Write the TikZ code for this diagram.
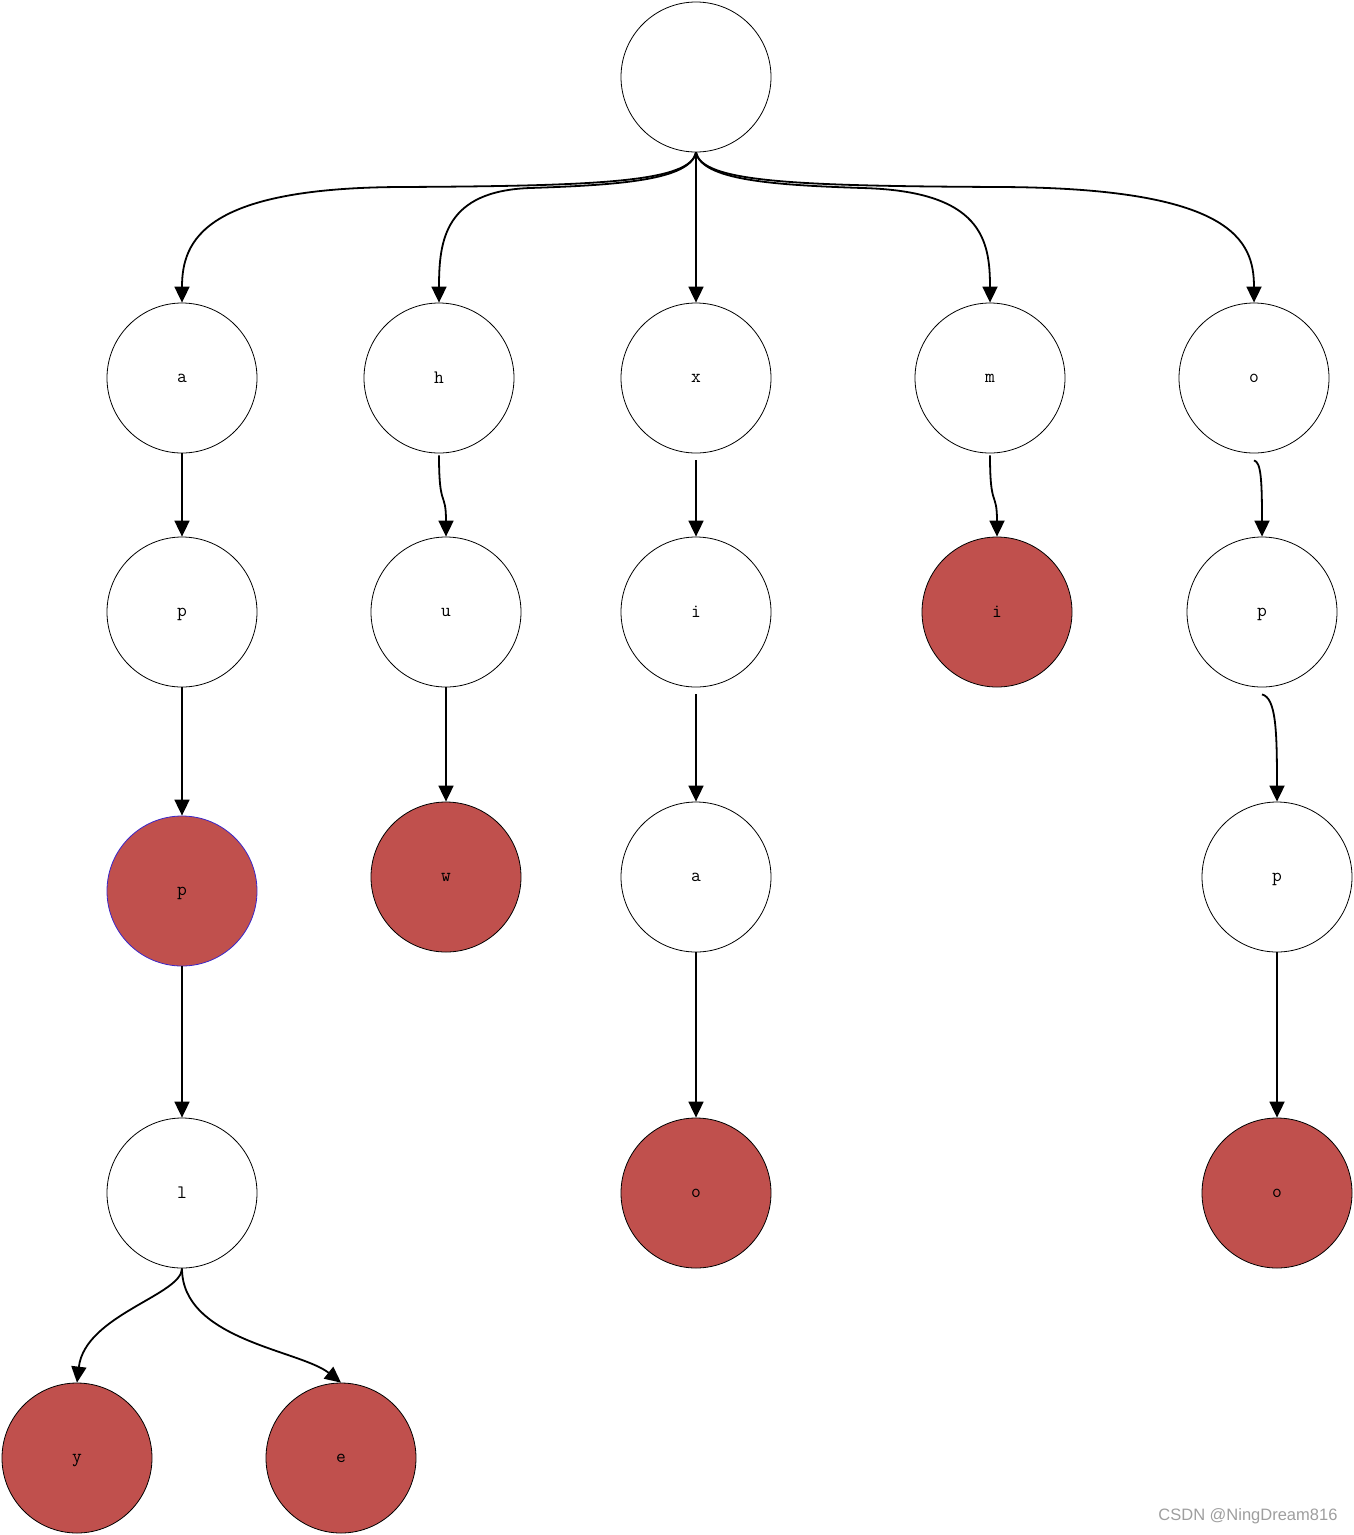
\documentclass[tikz,border=0pt]{standalone}
\usepackage{fontspec}
\newfontfamily\wmfont{Liberation Sans}
\usetikzlibrary{arrows.meta}
\definecolor{leaf}{HTML}{C0504D}
\tikzset{
  tnode/.style={circle, draw=black, line width=0.8pt, minimum size=150pt, inner sep=0pt, text depth=-2pt, font=\ttfamily\fontsize{19}{19}\selectfont},
  endnode/.style={tnode, fill=leaf},
  edge/.style={line width=1.8pt, -{Triangle[length=16pt,width=15pt]}}
}
\begin{document}
\begin{tikzpicture}[x=1pt,y=-1pt]
\useasboundingbox (0,0) rectangle (1354,1535);
% nodes
\node[tnode] (root) at (696,77) {};
\node[tnode] (a) at (182,378) {a};
\node[tnode] (h) at (439,378) {h};
\node[tnode] (x) at (696,378) {x};
\node[tnode] (m) at (990,378) {m};
\node[tnode] (o) at (1254,378) {o};
\node[tnode] (ap) at (182,612) {p};
\node[tnode] (hu) at (446,612) {u};
\node[tnode] (xi) at (696,612) {i};
\node[endnode] (mi) at (997,612) {i};
\node[tnode] (op) at (1262,612) {p};
\node[endnode, draw={rgb,255:red,60;green,40;blue,200}] (app) at (182,891) {p};
\node[endnode] (huw) at (446,877) {w};
\node[tnode] (xia) at (696,877) {a};
\node[tnode] (opp) at (1277,877) {p};
\node[tnode] (appl) at (182,1193) {l};
\node[endnode] (xiao) at (696,1193) {o};
\node[endnode] (oppo) at (1277,1193) {o};
\node[endnode] (y) at (77,1458) {y};
\node[endnode] (e) at (341,1458) {e};
% edges from root
\draw[edge] (root.south) .. controls (690,182) and (600,186) .. (400,187) .. controls (205,188) and (182,240) .. (a.north);
\draw[edge] (root.south) .. controls (690,180) and (620,185) .. (530,188) .. controls (445,191) and (439,240) .. (h.north);
\draw[edge] (root.south) -- (x.north);
\draw[edge] (root.south) .. controls (702,180) and (772,185) .. (862,188) .. controls (982,191) and (990,240) .. (m.north);
\draw[edge] (root.south) .. controls (702,182) and (792,186) .. (1000,187) .. controls (1232,188) and (1254,240) .. (o.north);
% chains
\draw[edge] (a.south) -- (ap.north);
\draw[edge] ([yshift=-2pt]h.south) .. controls (439,510) and (446,490) .. (hu.north);
\draw[edge] ([yshift=-7pt]x.south) -- (xi.north);
\draw[edge] ([yshift=-2pt]m.south) .. controls (990,510) and (997,490) .. (mi.north);
\draw[edge] ([yshift=-7pt]o.south) .. controls (1261,462) and (1262,480) .. (op.north);
\draw[edge] (ap.south) -- (app.north);
\draw[edge] (hu.south) -- (huw.north);
\draw[edge] ([yshift=-7pt]xi.south) -- (xia.north);
\draw[edge] ([yshift=-7pt]op.south) .. controls (1276,698) and (1277,730) .. (opp.north);
\draw[edge] (app.south) -- (appl.north);
\draw[edge] (xia.south) -- (xiao.north);
\draw[edge] (opp.south) -- (oppo.north);
\draw[edge] (appl.south) .. controls (182,1295) and (85,1315) .. (y.north);
\draw[edge] (appl.south) .. controls (182,1340) and (300,1350) .. (e.north);
% watermark
\node[anchor=east, text=black!38, font=\wmfont\fontsize{16.5}{16.5}\selectfont] (wm) at (1341,1516) {CSDN @NingDream816};
\end{tikzpicture}
\end{document}
